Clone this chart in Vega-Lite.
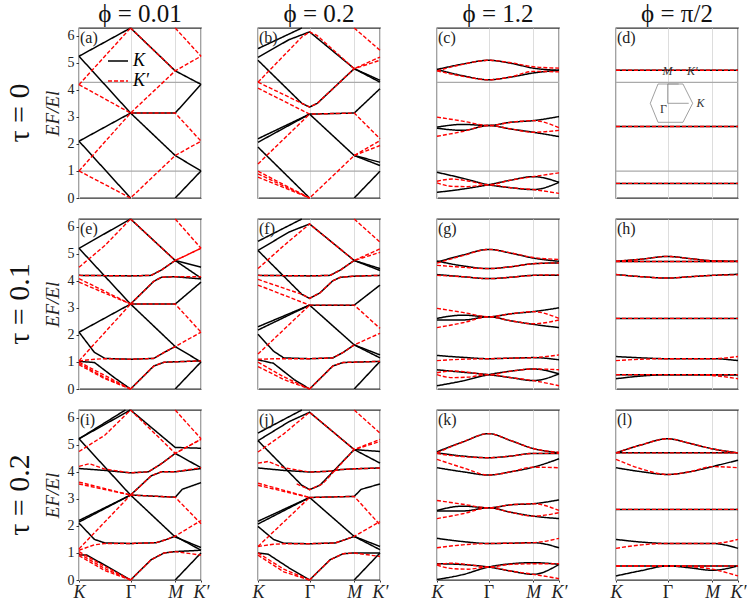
{
"$schema": "https://vega.github.io/schema/vega-lite/v6.json",
"padding": {"left": 5, "top": 2, "right": 4, "bottom": 0},
"bounds": "flush",
"background": "white",
"data": {"values": [
{"k":"h","r":0,"c":0,"b":901,"x":[0,2.366],"y":[0.99,0.99]},
{"k":"h","r":0,"c":0,"b":902,"x":[0,2.366],"y":[4.27,4.27]},
{"k":"h","r":0,"c":1,"b":901,"x":[0,2.366],"y":[0.99,0.99]},
{"k":"h","r":0,"c":1,"b":902,"x":[0,2.366],"y":[4.27,4.27]},
{"k":"h","r":0,"c":2,"b":901,"x":[0,2.366],"y":[0.99,0.99]},
{"k":"h","r":0,"c":2,"b":902,"x":[0,2.366],"y":[4.27,4.27]},
{"k":"h","r":0,"c":3,"b":901,"x":[0,2.366],"y":[0.99,0.99]},
{"k":"h","r":0,"c":3,"b":902,"x":[0,2.366],"y":[4.27,4.27]},
{"k":"hex","r":0,"c":3,"b":951,"x":[0.665,0.815,1.299,1.487,1.299,0.815,0.665],"y":[3.5,4.213,4.213,3.5,2.798,2.798,3.5]},
{"k":"hex","r":0,"c":3,"b":952,"x":[1.41,1.002,1.002,1.216],"y":[3.5,3.5,4.213,4.213]},
{"k":"t","r":0,"c":3,"t":"M","x":[1.0],"y":[4.42]},
{"k":"t","r":0,"c":3,"t":"K′","x":[1.48],"y":[4.42]},
{"k":"t","r":0,"c":3,"t":"K","x":[1.64],"y":[3.27]},
{"k":"tg","r":0,"c":3,"t":"Γ","x":[0.92],"y":[3.3]},
{"k":"lab","r":0,"c":0,"t":"(a)","x":[0],"y":[6.2832]},
{"k":"lab","r":0,"c":1,"t":"(b)","x":[0],"y":[6.2832]},
{"k":"lab","r":0,"c":2,"t":"(c)","x":[0],"y":[6.2832]},
{"k":"lab","r":0,"c":3,"t":"(d)","x":[0],"y":[6.2832]},
{"k":"lab","r":1,"c":0,"t":"(e)","x":[0],"y":[6.2832]},
{"k":"lab","r":1,"c":1,"t":"(f)","x":[0],"y":[6.2832]},
{"k":"lab","r":1,"c":2,"t":"(g)","x":[0],"y":[6.2832]},
{"k":"lab","r":1,"c":3,"t":"(h)","x":[0],"y":[6.2832]},
{"k":"lab","r":2,"c":0,"t":"(i)","x":[0],"y":[6.2832]},
{"k":"lab","r":2,"c":1,"t":"(j)","x":[0],"y":[6.2832]},
{"k":"lab","r":2,"c":2,"t":"(k)","x":[0],"y":[6.2832]},
{"k":"lab","r":2,"c":3,"t":"(l)","x":[0],"y":[6.2832]},

{"k":"b","r":0,"c":0,"v":"K","b":1,"x":[0,1],"y":[5.24,6.2832]},
{"k":"b","r":0,"c":0,"v":"K","b":2,"x":[0,1,1.866,2.366],"y":[5.24,3.14,1.57,1.0]},
{"k":"b","r":0,"c":0,"v":"K","b":3,"x":[0,1,1.866,2.366],"y":[2.1,3.14,3.14,4.2]},
{"k":"b","r":0,"c":0,"v":"K","b":4,"x":[0,1],"y":[2.1,0]},
{"k":"b","r":0,"c":0,"v":"K","b":5,"x":[1,1.866,2.366],"y":[6.2832,4.7,4.2]},
{"k":"b","r":0,"c":0,"v":"K","b":6,"x":[1.866,2.366],"y":[0,1.0]},
{"k":"b","r":0,"c":0,"v":"K′","b":11,"x":[0,1],"y":[4.19,6.2832]},
{"k":"b","r":0,"c":0,"v":"K′","b":12,"x":[0,1],"y":[4.19,3.14]},
{"k":"b","r":0,"c":0,"v":"K′","b":13,"x":[0,1,1.866,2.366],"y":[1.0,3.14,4.7,5.24]},
{"k":"b","r":0,"c":0,"v":"K′","b":14,"x":[0,1,1.866,2.366],"y":[1.0,0,1.57,2.1]},
{"k":"b","r":0,"c":0,"v":"K′","b":15,"x":[1,1.866],"y":[6.2832,4.7]},
{"k":"b","r":0,"c":0,"v":"K′","b":16,"x":[1,1.866,2.366],"y":[3.14,3.14,2.1]},
{"k":"b","r":0,"c":0,"v":"K′","b":17,"x":[1.866,2.366],"y":[6.2832,5.24]},

{"k":"b","r":0,"c":1,"v":"K","b":1,"x":[0,0.85],"y":[5.52,6.2832]},
{"k":"b","r":0,"c":1,"v":"K","b":2,"x":[0,0.6,1,1.866,2.366],"y":[5.2,5.85,6.14,4.78,4.35]},
{"k":"b","r":0,"c":1,"v":"K","b":3,"x":[0,0.85,1,1.15,1.866,2.366],"y":[5.09,3.5,3.36,3.5,4.78,4.28]},
{"k":"b","r":0,"c":1,"v":"K","b":4,"x":[0,1,1.866,2.366],"y":[2.19,3.1,3.14,4.04]},
{"k":"b","r":0,"c":1,"v":"K","b":5,"x":[0,1],"y":[2.06,3.1]},
{"k":"b","r":0,"c":1,"v":"K","b":6,"x":[0,1],"y":[1.88,0]},
{"k":"b","r":0,"c":1,"v":"K","b":7,"x":[1,1.866,2.366],"y":[3.1,1.57,1.32]},
{"k":"b","r":0,"c":1,"v":"K","b":8,"x":[1.866,2.366],"y":[1.57,1.2]},
{"k":"b","r":0,"c":1,"v":"K","b":9,"x":[1.866,2.366],"y":[0,0.99]},
{"k":"b","r":0,"c":1,"v":"K′","b":11,"x":[0,0.85,1,1.15,1.866,2.366],"y":[4.28,5.95,6.14,6.0,4.78,5.21]},
{"k":"b","r":0,"c":1,"v":"K′","b":12,"x":[0,0.85,1,1.15,1.866,2.366],"y":[4.28,3.5,3.36,3.5,4.78,5.09]},
{"k":"b","r":0,"c":1,"v":"K′","b":13,"x":[0,1,1.866,2.366],"y":[4.06,3.1,3.14,2.19]},
{"k":"b","r":0,"c":1,"v":"K′","b":14,"x":[0,1],"y":[1.26,3.1]},
{"k":"b","r":0,"c":1,"v":"K′","b":15,"x":[0,1,1.866,2.366],"y":[0.99,0,1.57,2.12]},
{"k":"b","r":0,"c":1,"v":"K′","b":16,"x":[0,1],"y":[0.89,0]},
{"k":"b","r":0,"c":1,"v":"K′","b":17,"x":[0,1],"y":[0.77,0]},
{"k":"b","r":0,"c":1,"v":"K′","b":18,"x":[1.866,2.366],"y":[1.57,1.94]},
{"k":"b","r":0,"c":1,"v":"K′","b":19,"x":[1.866,2.366],"y":[6.2832,5.46]},

{"k":"b","r":0,"c":2,"v":"K","b":1,"x":[0,0.5,1,1.433,1.866,2.366],"y":[4.75,4.95,5.09,4.98,4.8,4.72]},
{"k":"b","r":0,"c":2,"v":"K","b":2,"x":[0,0.5,1,1.433,1.866,2.366],"y":[4.75,4.52,4.37,4.47,4.62,4.72]},
{"k":"b","r":0,"c":2,"v":"K","b":3,"x":[0,0.5,1,1.433,1.866,2.366],"y":[2.62,2.72,2.68,2.8,2.86,3.01]},
{"k":"b","r":0,"c":2,"v":"K","b":4,"x":[0,0.5,1,1.433,1.866,2.366],"y":[2.58,2.5,2.68,2.55,2.43,2.27]},
{"k":"b","r":0,"c":2,"v":"K","b":5,"x":[0,0.5,1,1.433,1.866,2.366],"y":[0.95,0.73,0.49,0.38,0.31,0.58]},
{"k":"b","r":0,"c":2,"v":"K","b":6,"x":[0,0.5,1,1.433,1.866,2.366],"y":[0.21,0.33,0.49,0.66,0.79,0.58]},
{"k":"b","r":0,"c":2,"v":"K′","b":11,"x":[0,0.5,1,1.433,1.866,2.366],"y":[4.7,4.94,5.09,5.0,4.85,4.8]},
{"k":"b","r":0,"c":2,"v":"K′","b":12,"x":[0,0.5,1,1.433,1.866,2.366],"y":[4.7,4.5,4.37,4.48,4.68,4.66]},
{"k":"b","r":0,"c":2,"v":"K′","b":13,"x":[0,0.5,1,1.433,1.866,2.366],"y":[2.99,2.84,2.68,2.8,2.86,2.6]},
{"k":"b","r":0,"c":2,"v":"K′","b":14,"x":[0,0.5,1,1.433,1.866,2.366],"y":[2.28,2.46,2.68,2.55,2.43,2.5]},
{"k":"b","r":0,"c":2,"v":"K′","b":15,"x":[0,0.3,0.6,1,1.433,1.866,2.366],"y":[0.62,0.7,0.63,0.49,0.66,0.79,0.93]},
{"k":"b","r":0,"c":2,"v":"K′","b":16,"x":[0,0.3,0.6,1,1.433,1.866,2.366],"y":[0.56,0.43,0.42,0.49,0.38,0.31,0.17]},

{"k":"b","r":0,"c":3,"v":"K","b":1,"x":[0,2.366],"y":[4.72,4.72]},
{"k":"b","r":0,"c":3,"v":"K","b":2,"x":[0,2.366],"y":[2.64,2.64]},
{"k":"b","r":0,"c":3,"v":"K","b":3,"x":[0,2.366],"y":[0.54,0.54]},
{"k":"b","r":0,"c":3,"v":"K′","b":11,"x":[0,2.366],"y":[4.72,4.72]},
{"k":"b","r":0,"c":3,"v":"K′","b":12,"x":[0,2.366],"y":[2.64,2.64]},
{"k":"b","r":0,"c":3,"v":"K′","b":13,"x":[0,2.366],"y":[0.54,0.54]},

{"k":"b","r":1,"c":0,"v":"K","b":1,"x":[0,1],"y":[5.2,6.2832]},
{"k":"b","r":1,"c":0,"v":"K","b":2,"x":[0,1,1.866,2.366],"y":[5.2,3.14,1.57,1.0]},
{"k":"b","r":1,"c":0,"v":"K","b":3,"x":[0,1,1.4,1.6,1.866,2.366],"y":[4.2,4.18,4.2,4.4,4.75,4.1]},
{"k":"b","r":1,"c":0,"v":"K","b":4,"x":[1,1.866,2.366],"y":[6.2832,4.75,4.5]},
{"k":"b","r":1,"c":0,"v":"K","b":5,"x":[0,1,1.866,2.366],"y":[2.1,3.14,3.14,3.95]},
{"k":"b","r":1,"c":0,"v":"K","b":6,"x":[0,0.3,0.5,1,1.45,1.65,1.866],"y":[2.1,1.35,1.13,1.1,1.13,1.35,1.57]},
{"k":"b","r":1,"c":0,"v":"K","b":7,"x":[0,0.3,0.7,1],"y":[1.02,0.98,0.4,0]},
{"k":"b","r":1,"c":0,"v":"K","b":8,"x":[1,1.45,1.65,2.366],"y":[0,0.85,0.99,1.04]},
{"k":"b","r":1,"c":0,"v":"K","b":9,"x":[1.866,2.366],"y":[0,1.0]},
{"k":"b","r":1,"c":0,"v":"K","b":10,"x":[1,1.45,1.6,1.866,2.366],"y":[3.14,3.98,4.13,4.15,4.07]},
{"k":"b","r":1,"c":0,"v":"K′","b":11,"x":[0,0.5,1],"y":[4.5,5.3,6.2832]},
{"k":"b","r":1,"c":0,"v":"K′","b":12,"x":[0,1,1.4,1.6,1.866,2.366],"y":[4.2,4.18,4.2,4.4,4.75,5.2]},
{"k":"b","r":1,"c":0,"v":"K′","b":13,"x":[0,1],"y":[4.08,3.14]},
{"k":"b","r":1,"c":0,"v":"K′","b":14,"x":[0,1],"y":[3.95,3.14]},
{"k":"b","r":1,"c":0,"v":"K′","b":15,"x":[1,1.866,2.366],"y":[6.2832,4.75,5.2]},
{"k":"b","r":1,"c":0,"v":"K′","b":16,"x":[1.866,2.366],"y":[6.2832,5.2]},
{"k":"b","r":1,"c":0,"v":"K′","b":17,"x":[1,1.45,1.6,1.866,2.366],"y":[3.14,3.98,4.13,4.15,4.15]},
{"k":"b","r":1,"c":0,"v":"K′","b":18,"x":[1,1.866,2.366],"y":[3.14,3.14,2.1]},
{"k":"b","r":1,"c":0,"v":"K′","b":19,"x":[0,1],"y":[1.04,3.14]},
{"k":"b","r":1,"c":0,"v":"K′","b":20,"x":[0,0.3,0.5,1,1.45,1.65,1.866,2.366],"y":[1.04,1.1,1.12,1.1,1.13,1.35,1.57,2.1]},
{"k":"b","r":1,"c":0,"v":"K′","b":21,"x":[0,1],"y":[1.0,0]},
{"k":"b","r":1,"c":0,"v":"K′","b":22,"x":[0,0.5,1],"y":[0.95,0.42,0]},
{"k":"b","r":1,"c":0,"v":"K′","b":23,"x":[0,0.5,1],"y":[0.9,0.38,0]},
{"k":"b","r":1,"c":0,"v":"K′","b":24,"x":[1,1.45,1.65,2.366],"y":[0,0.85,0.99,1.04]},

{"k":"b","r":1,"c":1,"v":"K","b":1,"x":[0,0.85],"y":[5.46,6.2832]},
{"k":"b","r":1,"c":1,"v":"K","b":2,"x":[0,0.6,1,1.866,2.366],"y":[5.12,5.8,6.1,4.75,4.45]},
{"k":"b","r":1,"c":1,"v":"K","b":3,"x":[0,0.85,1,1.2,1.45,1.6,1.866,2.366],"y":[5.12,3.5,3.35,3.55,4.0,4.13,4.17,4.2]},
{"k":"b","r":1,"c":1,"v":"K","b":4,"x":[0,1,1.4,1.6,1.866,2.366],"y":[4.2,4.18,4.2,4.4,4.75,4.38]},
{"k":"b","r":1,"c":1,"v":"K","b":5,"x":[0,1,1.866,2.366],"y":[2.3,3.1,3.1,3.84]},
{"k":"b","r":1,"c":1,"v":"K","b":6,"x":[0,1],"y":[2.18,3.1]},
{"k":"b","r":1,"c":1,"v":"K","b":7,"x":[0,0.3,0.5,1,1.45,1.65,1.866,2.366],"y":[2.02,1.4,1.15,1.12,1.15,1.35,1.63,1.26]},
{"k":"b","r":1,"c":1,"v":"K","b":8,"x":[1,1.866,2.366],"y":[3.1,1.63,1.15]},
{"k":"b","r":1,"c":1,"v":"K","b":9,"x":[0,0.3,0.7,1],"y":[1.08,0.95,0.35,0]},
{"k":"b","r":1,"c":1,"v":"K","b":10,"x":[1,1.45,1.65,2.366],"y":[0,0.85,0.98,1.02]},
{"k":"b","r":1,"c":1,"v":"K","b":11,"x":[1.866,2.366],"y":[0,1.02]},
{"k":"b","r":1,"c":1,"v":"K′","b":21,"x":[0,0.5,1,1.866,2.366],"y":[4.45,5.3,6.1,4.75,5.18]},
{"k":"b","r":1,"c":1,"v":"K′","b":22,"x":[0,1,1.4,1.6,1.866,2.366],"y":[4.2,4.18,4.2,4.4,4.75,5.05]},
{"k":"b","r":1,"c":1,"v":"K′","b":23,"x":[0,0.85,1,1.2,1.45,1.6,1.866,2.366],"y":[4.05,3.5,3.35,3.55,4.0,4.13,4.17,4.2]},
{"k":"b","r":1,"c":1,"v":"K′","b":24,"x":[0,1],"y":[3.84,3.1]},
{"k":"b","r":1,"c":1,"v":"K′","b":25,"x":[1,1.866,2.366],"y":[3.1,3.1,2.24]},
{"k":"b","r":1,"c":1,"v":"K′","b":26,"x":[0,1],"y":[1.29,3.1]},
{"k":"b","r":1,"c":1,"v":"K′","b":27,"x":[0,0.4,1,1.45,1.65,1.866,2.366],"y":[1.1,1.12,1.12,1.15,1.35,1.63,2.06]},
{"k":"b","r":1,"c":1,"v":"K′","b":28,"x":[0,0.5,1],"y":[0.99,0.45,0]},
{"k":"b","r":1,"c":1,"v":"K′","b":29,"x":[0,0.5,1],"y":[0.83,0.35,0]},
{"k":"b","r":1,"c":1,"v":"K′","b":30,"x":[1,1.45,1.65,2.366],"y":[0,0.85,0.98,1.02]},
{"k":"b","r":1,"c":1,"v":"K′","b":31,"x":[1.866,2.366],"y":[6.2832,5.43]},

{"k":"b","r":1,"c":2,"v":"K","b":1,"x":[0,0.5,1,1.433,1.866,2.366],"y":[4.69,4.95,5.16,5.02,4.84,4.72]},
{"k":"b","r":1,"c":2,"v":"K","b":2,"x":[0,0.5,1,1.433,1.866,2.366],"y":[4.73,4.55,4.45,4.52,4.63,4.66]},
{"k":"b","r":1,"c":2,"v":"K","b":3,"x":[0,0.5,1,1.433,1.866,2.366],"y":[4.23,4.15,4.08,4.13,4.2,4.2]},
{"k":"b","r":1,"c":2,"v":"K","b":4,"x":[0,0.5,1,1.433,1.866,2.366],"y":[2.61,2.73,2.67,2.78,2.86,3.0]},
{"k":"b","r":1,"c":2,"v":"K","b":5,"x":[0,0.5,1,1.433,1.866,2.366],"y":[2.55,2.55,2.67,2.52,2.39,2.27]},
{"k":"b","r":1,"c":2,"v":"K","b":6,"x":[0,0.5,1,1.433,1.866,2.366],"y":[1.24,1.17,1.12,1.14,1.16,1.08]},
{"k":"b","r":1,"c":2,"v":"K","b":7,"x":[0,0.5,1,1.433,1.866,2.366],"y":[0.71,0.62,0.53,0.42,0.31,0.56]},
{"k":"b","r":1,"c":2,"v":"K","b":8,"x":[0,0.5,1,1.433,1.866,2.366],"y":[0.12,0.3,0.53,0.66,0.74,0.56]},
{"k":"b","r":1,"c":2,"v":"K′","b":11,"x":[0,0.5,1,1.433,1.866,2.366],"y":[4.65,4.93,5.16,5.03,4.86,4.79]},
{"k":"b","r":1,"c":2,"v":"K′","b":12,"x":[0,0.5,1,1.433,1.866,2.366],"y":[4.57,4.5,4.45,4.52,4.63,4.66]},
{"k":"b","r":1,"c":2,"v":"K′","b":13,"x":[0,0.5,1,1.433,1.866,2.366],"y":[4.2,4.15,4.08,4.13,4.2,4.22]},
{"k":"b","r":1,"c":2,"v":"K′","b":14,"x":[0,0.5,1,1.433,1.866,2.366],"y":[2.98,2.83,2.67,2.78,2.86,2.61]},
{"k":"b","r":1,"c":2,"v":"K′","b":15,"x":[0,0.5,1,1.433,1.866,2.366],"y":[2.27,2.45,2.67,2.52,2.41,2.55]},
{"k":"b","r":1,"c":2,"v":"K′","b":16,"x":[0,0.5,1,1.433,1.866,2.366],"y":[1.05,1.1,1.12,1.14,1.16,1.26]},
{"k":"b","r":1,"c":2,"v":"K′","b":17,"x":[0,0.3,0.6,1,1.433,1.866,2.366],"y":[0.6,0.67,0.62,0.53,0.66,0.74,0.71]},
{"k":"b","r":1,"c":2,"v":"K′","b":18,"x":[0,0.3,0.6,1,1.433,1.866,2.366],"y":[0.53,0.42,0.44,0.53,0.42,0.31,0.12]},

{"k":"b","r":1,"c":3,"v":"K","b":1,"x":[0,0.5,1,1.433,1.866,2.366],"y":[4.72,4.8,4.9,4.82,4.74,4.72]},
{"k":"b","r":1,"c":3,"v":"K","b":2,"x":[0,2.366],"y":[4.71,4.71]},
{"k":"b","r":1,"c":3,"v":"K","b":3,"x":[0,0.5,1,1.433,1.866,2.366],"y":[4.23,4.15,4.1,4.15,4.2,4.24]},
{"k":"b","r":1,"c":3,"v":"K","b":4,"x":[0,2.366],"y":[2.61,2.61]},
{"k":"b","r":1,"c":3,"v":"K","b":5,"x":[0,0.5,1,1.433,1.866,2.366],"y":[1.2,1.15,1.12,1.12,1.12,1.05]},
{"k":"b","r":1,"c":3,"v":"K","b":6,"x":[0,0.5,1,1.433,1.866,2.366],"y":[0.38,0.48,0.53,0.53,0.53,0.53]},
{"k":"b","r":1,"c":3,"v":"K","b":7,"x":[0,2.366],"y":[0.53,0.53]},
{"k":"b","r":1,"c":3,"v":"K′","b":11,"x":[0,0.5,1,1.433,1.866,2.366],"y":[4.72,4.8,4.9,4.82,4.74,4.72]},
{"k":"b","r":1,"c":3,"v":"K′","b":12,"x":[0,2.366],"y":[4.71,4.71]},
{"k":"b","r":1,"c":3,"v":"K′","b":13,"x":[0,0.5,1,1.433,1.866,2.366],"y":[4.23,4.15,4.1,4.15,4.2,4.22]},
{"k":"b","r":1,"c":3,"v":"K′","b":14,"x":[0,2.366],"y":[2.61,2.61]},
{"k":"b","r":1,"c":3,"v":"K′","b":15,"x":[0,0.5,1,1.433,1.866,2.366],"y":[1.05,1.1,1.12,1.12,1.12,1.2]},
{"k":"b","r":1,"c":3,"v":"K′","b":16,"x":[0,0.5,1,1.433,1.866,2.366],"y":[0.53,0.53,0.53,0.53,0.5,0.38]},
{"k":"b","r":1,"c":3,"v":"K′","b":17,"x":[0,2.366],"y":[0.53,0.53]},

{"k":"b","r":2,"c":0,"v":"K","b":1,"x":[0,1],"y":[5.22,6.2832]},
{"k":"b","r":2,"c":0,"v":"K","b":2,"x":[0,0.9],"y":[5.22,6.2832]},
{"k":"b","r":2,"c":0,"v":"K","b":3,"x":[0,1,1.866,2.366],"y":[5.22,3.14,1.59,1.2]},
{"k":"b","r":2,"c":0,"v":"K","b":4,"x":[1,1.866,2.366],"y":[6.2832,4.9,4.87]},
{"k":"b","r":2,"c":0,"v":"K","b":5,"x":[0,0.5,1,1.35,1.6,1.866,2.366],"y":[4.12,4.05,3.96,4.0,4.3,4.68,4.15]},
{"k":"b","r":2,"c":0,"v":"K","b":6,"x":[1,1.4,1.6,1.866,2.366],"y":[3.14,3.85,4.0,4.0,4.12]},
{"k":"b","r":2,"c":0,"v":"K","b":7,"x":[0,1,1.866,2.0,2.366],"y":[2.14,3.14,3.06,3.35,3.6]},
{"k":"b","r":2,"c":0,"v":"K","b":8,"x":[0,1],"y":[2.2,3.14]},
{"k":"b","r":2,"c":0,"v":"K","b":9,"x":[0,0.3,0.5,1,1.5,1.7,1.866,2.366],"y":[2.1,1.5,1.37,1.35,1.38,1.5,1.62,1.1]},
{"k":"b","r":2,"c":0,"v":"K","b":11,"x":[0,0.15,0.5,1],"y":[0.93,0.92,0.55,0]},
{"k":"b","r":2,"c":0,"v":"K","b":12,"x":[1,1.4,1.65,1.866,2.366],"y":[0,0.75,1.0,1.05,1.1]},
{"k":"b","r":2,"c":0,"v":"K","b":13,"x":[1.866,2.366],"y":[0,1.0]},
{"k":"b","r":2,"c":0,"v":"K′","b":21,"x":[0,0.5,1],"y":[4.75,5.35,6.2832]},
{"k":"b","r":2,"c":0,"v":"K′","b":22,"x":[1,1.866,2.366],"y":[6.2832,4.68,5.2]},
{"k":"b","r":2,"c":0,"v":"K′","b":23,"x":[1.866,2.366],"y":[6.2832,5.22]},
{"k":"b","r":2,"c":0,"v":"K′","b":24,"x":[0,0.2,0.5,1,1.35,1.6,1.866,2.366],"y":[4.2,4.3,4.1,3.96,4.0,4.3,4.68,5.2]},
{"k":"b","r":2,"c":0,"v":"K′","b":25,"x":[1,1.4,1.6,1.866,2.366],"y":[3.14,3.85,4.0,4.0,4.15]},
{"k":"b","r":2,"c":0,"v":"K′","b":26,"x":[0,1],"y":[3.62,3.14]},
{"k":"b","r":2,"c":0,"v":"K′","b":27,"x":[0,1],"y":[3.55,3.14]},
{"k":"b","r":2,"c":0,"v":"K′","b":28,"x":[1,1.866,2.366],"y":[3.14,3.06,2.08]},
{"k":"b","r":2,"c":0,"v":"K′","b":29,"x":[0,1],"y":[1.15,3.14]},
{"k":"b","r":2,"c":0,"v":"K′","b":30,"x":[0,0.3,0.5,1,1.5,1.7,1.866,2.366],"y":[1.1,1.3,1.35,1.35,1.38,1.5,1.62,2.2]},
{"k":"b","r":2,"c":0,"v":"K′","b":31,"x":[0,0.5,1],"y":[1.05,0.5,0]},
{"k":"b","r":2,"c":0,"v":"K′","b":32,"x":[0,0.5,1],"y":[0.98,0.42,0]},
{"k":"b","r":2,"c":0,"v":"K′","b":33,"x":[0,0.5,1],"y":[0.9,0.35,0]},
{"k":"b","r":2,"c":0,"v":"K′","b":34,"x":[1,1.4,1.65,1.866,2.366],"y":[0,0.75,1.0,1.05,0.92]},

{"k":"b","r":2,"c":1,"v":"K","b":1,"x":[0,0.85],"y":[5.43,6.2832]},
{"k":"b","r":2,"c":1,"v":"K","b":2,"x":[0,0.6,1,1.866,2.366],"y":[5.15,5.85,6.2,4.82,4.75]},
{"k":"b","r":2,"c":1,"v":"K","b":3,"x":[0,0.85,1,1.2,1.866,2.366],"y":[5.15,3.5,3.34,3.5,4.82,4.32]},
{"k":"b","r":2,"c":1,"v":"K","b":4,"x":[0,0.5,1,1.4,1.6,1.866,2.366],"y":[4.14,4.05,3.99,4.02,4.08,4.11,4.14]},
{"k":"b","r":2,"c":1,"v":"K","b":5,"x":[0,1,1.866,2.0,2.366],"y":[2.17,3.05,3.09,3.35,3.55]},
{"k":"b","r":2,"c":1,"v":"K","b":6,"x":[0,1],"y":[2.07,3.05]},
{"k":"b","r":2,"c":1,"v":"K","b":7,"x":[0,0.3,0.5,1,1.5,1.7,1.866,2.366],"y":[1.98,1.5,1.36,1.34,1.37,1.5,1.61,1.24]},
{"k":"b","r":2,"c":1,"v":"K","b":8,"x":[1,1.866,2.366],"y":[3.05,1.61,1.12]},
{"k":"b","r":2,"c":1,"v":"K","b":9,"x":[0,0.2,0.6,1],"y":[1.0,0.95,0.45,0]},
{"k":"b","r":2,"c":1,"v":"K","b":10,"x":[1,1.4,1.65,1.866,2.366],"y":[0,0.75,0.97,1.0,1.0]},
{"k":"b","r":2,"c":1,"v":"K","b":11,"x":[1.866,2.366],"y":[0,1.0]},
{"k":"b","r":2,"c":1,"v":"K′","b":21,"x":[0,0.5,1,1.866,2.366],"y":[4.73,5.4,6.2,4.82,5.12]},
{"k":"b","r":2,"c":1,"v":"K′","b":22,"x":[0,0.2,0.5,1,1.4,1.6,1.866,2.366],"y":[4.32,4.38,4.15,3.99,4.02,4.08,4.11,4.14]},
{"k":"b","r":2,"c":1,"v":"K′","b":23,"x":[0.75,1,1.25,1.866,2.366],"y":[3.55,3.34,3.55,4.82,5.2]},
{"k":"b","r":2,"c":1,"v":"K′","b":24,"x":[0,1],"y":[3.58,3.05]},
{"k":"b","r":2,"c":1,"v":"K′","b":25,"x":[0,1],"y":[3.5,3.05]},
{"k":"b","r":2,"c":1,"v":"K′","b":26,"x":[1,1.866,2.366],"y":[3.05,3.09,2.04]},
{"k":"b","r":2,"c":1,"v":"K′","b":27,"x":[0,1],"y":[1.24,3.05]},
{"k":"b","r":2,"c":1,"v":"K′","b":28,"x":[0,0.3,0.5,1,1.5,1.7,1.866,2.366],"y":[1.24,1.32,1.34,1.34,1.37,1.5,1.61,2.16]},
{"k":"b","r":2,"c":1,"v":"K′","b":29,"x":[0,0.5,1],"y":[1.0,0.4,0]},
{"k":"b","r":2,"c":1,"v":"K′","b":30,"x":[0,0.5,1],"y":[0.92,0.3,0]},
{"k":"b","r":2,"c":1,"v":"K′","b":31,"x":[1,1.4,1.65,1.866,2.366],"y":[0,0.75,0.97,1.0,0.87]},
{"k":"b","r":2,"c":1,"v":"K′","b":32,"x":[1.866,2.366],"y":[6.2832,5.43]},

{"k":"b","r":2,"c":2,"v":"K","b":1,"x":[0,0.5,1,1.433,1.866,2.366],"y":[4.74,5.1,5.41,5.15,4.86,4.7]},
{"k":"b","r":2,"c":2,"v":"K","b":2,"x":[0,0.5,1,1.433,1.866,2.366],"y":[4.7,4.58,4.52,4.58,4.68,4.68]},
{"k":"b","r":2,"c":2,"v":"K","b":3,"x":[0,0.5,1,1.433,1.866,2.366],"y":[4.15,4.0,3.88,4.0,4.17,4.48]},
{"k":"b","r":2,"c":2,"v":"K","b":4,"x":[0,0.5,1,1.433,1.866,2.366],"y":[2.57,2.73,2.67,2.78,2.82,2.96]},
{"k":"b","r":2,"c":2,"v":"K","b":5,"x":[0,0.5,1,1.433,1.866,2.366],"y":[2.55,2.55,2.67,2.5,2.36,2.27]},
{"k":"b","r":2,"c":2,"v":"K","b":6,"x":[0,0.5,1,1.433,1.866,2.366],"y":[1.54,1.42,1.35,1.36,1.38,1.19]},
{"k":"b","r":2,"c":2,"v":"K","b":7,"x":[0,0.5,1,1.433,1.866,2.366],"y":[0.6,0.57,0.48,0.33,0.21,0.58]},
{"k":"b","r":2,"c":2,"v":"K","b":8,"x":[0,0.5,1,1.433,1.866,2.366],"y":[0.02,0.2,0.48,0.6,0.64,0.58]},
{"k":"b","r":2,"c":2,"v":"K′","b":11,"x":[0,0.5,1,1.433,1.866,2.366],"y":[4.7,5.1,5.41,5.15,4.86,4.72]},
{"k":"b","r":2,"c":2,"v":"K′","b":12,"x":[0,0.5,1,1.433,1.866,2.366],"y":[4.67,4.56,4.52,4.58,4.68,4.68]},
{"k":"b","r":2,"c":2,"v":"K′","b":13,"x":[0,0.5,1,1.433,1.866,2.366],"y":[4.46,4.15,3.88,4.0,4.17,4.15]},
{"k":"b","r":2,"c":2,"v":"K′","b":14,"x":[0,0.5,1,1.433,1.866,2.366],"y":[2.94,2.8,2.67,2.78,2.82,2.57]},
{"k":"b","r":2,"c":2,"v":"K′","b":15,"x":[0,0.5,1,1.433,1.866,2.366],"y":[2.27,2.45,2.67,2.5,2.36,2.49]},
{"k":"b","r":2,"c":2,"v":"K′","b":16,"x":[0,0.5,1,1.433,1.866,2.366],"y":[1.19,1.3,1.35,1.36,1.38,1.54]},
{"k":"b","r":2,"c":2,"v":"K′","b":17,"x":[0,0.3,0.6,1,1.433,1.866,2.366],"y":[0.58,0.62,0.57,0.48,0.58,0.6,0.6]},
{"k":"b","r":2,"c":2,"v":"K′","b":18,"x":[0,0.3,0.6,1,1.433,1.866,2.366],"y":[0.55,0.42,0.4,0.48,0.33,0.21,0.05]},

{"k":"b","r":2,"c":3,"v":"K","b":1,"x":[0,0.5,1,1.433,1.866,2.366],"y":[4.7,5.0,5.22,5.05,4.85,4.7]},
{"k":"b","r":2,"c":3,"v":"K","b":2,"x":[0,2.366],"y":[4.7,4.7]},
{"k":"b","r":2,"c":3,"v":"K","b":3,"x":[0,0.5,1,1.433,1.866,2.366],"y":[4.15,4.0,3.9,4.0,4.19,4.43]},
{"k":"b","r":2,"c":3,"v":"K","b":4,"x":[0,2.366],"y":[2.61,2.61]},
{"k":"b","r":2,"c":3,"v":"K","b":5,"x":[0,0.5,1,1.433,1.866,2.366],"y":[1.5,1.4,1.35,1.35,1.35,1.17]},
{"k":"b","r":2,"c":3,"v":"K","b":6,"x":[0,0.5,1,1.433,1.866,2.366],"y":[0.15,0.35,0.52,0.45,0.36,0.52]},
{"k":"b","r":2,"c":3,"v":"K","b":7,"x":[0,2.366],"y":[0.52,0.52]},
{"k":"b","r":2,"c":3,"v":"K′","b":11,"x":[0,0.5,1,1.433,1.866,2.366],"y":[4.7,5.0,5.22,5.05,4.85,4.7]},
{"k":"b","r":2,"c":3,"v":"K′","b":12,"x":[0,2.366],"y":[4.7,4.7]},
{"k":"b","r":2,"c":3,"v":"K′","b":13,"x":[0,0.5,1,1.433,1.866,2.366],"y":[4.46,4.1,3.9,4.0,4.19,4.15]},
{"k":"b","r":2,"c":3,"v":"K′","b":14,"x":[0,2.366],"y":[2.61,2.61]},
{"k":"b","r":2,"c":3,"v":"K′","b":15,"x":[0,0.5,1,1.433,1.866,2.366],"y":[1.17,1.3,1.35,1.35,1.35,1.5]},
{"k":"b","r":2,"c":3,"v":"K′","b":16,"x":[0,2.366],"y":[0.52,0.52]},
{"k":"b","r":2,"c":3,"v":"K′","b":17,"x":[0,1,1.433,1.866,2.366],"y":[0.52,0.52,0.5,0.4,0.15]}
]},
"transform": [{"flatten": ["x", "y"]}],
"facet": {
  "row": {"field": "r", "type": "ordinal", "title": null,
    "header": {"labelExpr": "['τ = 0','τ = 0.1','τ = 0.2'][datum.value]", "labelAngle": -90, "labelFont": "Liberation Serif", "labelFontSize": 30, "labelPadding": -22, "labelAlign": "center", "labelBaseline": "bottom"}},
  "column": {"field": "c", "type": "ordinal", "title": null,
    "header": {"labelExpr": "['ϕ = 0.01','ϕ = 0.2','ϕ = 1.2','ϕ = π/2'][datum.value]", "labelFont": "Liberation Serif", "labelFontSize": 25, "labelPadding": 1}}
},
"spacing": {"row": 21, "column": 57},
"spec": {
  "width": 122,
  "height": 170,
  "encoding": {
    "x": {"field": "x", "type": "quantitative", "title": null,
      "scale": {"domain": [0, 2.366], "nice": false, "zero": false},
      "axis": {"values": [0, 1, 1.866, 2.366], "labelExpr": "datum.value == 0 ? 'K' : datum.value == 1 ? 'Γ' : datum.value < 2 ? 'M' : 'K′'", "labelFontSize": 18, "labelFontStyle": {"condition": {"test": "datum.value == 1", "value": "normal"}, "value": "italic"}, "labelFlush": false, "labelOverlap": false, "grid": true, "gridColor": "#dddddd", "tickSize": 2, "labelPadding": 1}},
    "y": {"field": "y", "type": "quantitative", "title": "EF/El",
      "scale": {"domain": [0, 6.2832], "nice": false, "zero": false},
      "axis": {"values": [0, 1, 2, 3, 4, 5, 6], "labelFontSize": 14, "grid": false, "tickSize": 3, "labelPadding": 2, "titleFontSize": 19, "titleFontStyle": "italic", "titleFontWeight": "normal", "titlePadding": 5}}
  },
  "layer": [
    {"transform": [{"filter": "datum.k == 'h'"}], "mark": {"type": "line", "color": "#aaaaaa", "strokeWidth": 1.3}, "encoding": {"detail": {"field": "b"}}},
    {"transform": [{"filter": "datum.k == 'hex'"}], "mark": {"type": "line", "color": "#888888", "strokeWidth": 0.8}, "encoding": {"detail": {"field": "b"}, "order": {"value": null}}},
    {"transform": [{"filter": "datum.k == 'b' && datum.v == 'K' && datum.c < 2"}], "mark": {"type": "line", "strokeWidth": 1.5, "interpolate": "linear"},
     "encoding": {"detail": {"field": "b"},
       "color": {"field": "v", "type": "nominal", "scale": {"domain": ["K", "K′"], "range": ["#000000", "#ff0000"]}, "legend": {"title": null, "orient": "none", "legendX": 28, "legendY": 22, "symbolType": "stroke", "symbolSize": 400, "symbolStrokeWidth": 1.4, "labelFont": "Liberation Serif", "labelFontSize": 18, "labelFontStyle": "italic", "rowPadding": -7}},
       "strokeDash": {"field": "v", "type": "nominal", "scale": {"domain": ["K", "K′"], "range": [[1, 0], [4, 2]]}, "legend": {"title": null, "orient": "none", "legendX": 28, "legendY": 22, "symbolType": "stroke", "symbolSize": 400, "symbolStrokeWidth": 1.4, "labelFont": "Liberation Serif", "labelFontSize": 18, "labelFontStyle": "italic", "rowPadding": -7}}}},
    {"transform": [{"filter": "datum.k == 'b' && datum.v == 'K′' && datum.c < 2"}], "mark": {"type": "line", "strokeWidth": 1.4, "interpolate": "linear"},
     "encoding": {"detail": {"field": "b"}, "color": {"field": "v", "type": "nominal"}, "strokeDash": {"field": "v", "type": "nominal"}}},
    {"transform": [{"filter": "datum.k == 'b' && datum.v == 'K' && datum.c >= 2"}], "mark": {"type": "line", "strokeWidth": 1.5, "interpolate": "monotone"},
     "encoding": {"detail": {"field": "b"}, "color": {"field": "v", "type": "nominal"}, "strokeDash": {"field": "v", "type": "nominal"}}},
    {"transform": [{"filter": "datum.k == 'b' && datum.v == 'K′' && datum.c >= 2"}], "mark": {"type": "line", "strokeWidth": 1.4, "interpolate": "monotone"},
     "encoding": {"detail": {"field": "b"}, "color": {"field": "v", "type": "nominal"}, "strokeDash": {"field": "v", "type": "nominal"}}},
    {"transform": [{"filter": "datum.k == 'lab'"}], "mark": {"type": "text", "align": "left", "baseline": "top", "dx": 1, "dy": 2, "font": "Liberation Serif", "fontSize": 16, "color": "#222222"}, "encoding": {"text": {"field": "t"}}},
    {"transform": [{"filter": "datum.k == 't'"}], "mark": {"type": "text", "align": "center", "baseline": "bottom", "font": "Liberation Serif", "fontSize": 12, "fontStyle": "italic", "color": "#333333"}, "encoding": {"text": {"field": "t"}}},
    {"transform": [{"filter": "datum.k == 'tg'"}], "mark": {"type": "text", "align": "center", "baseline": "middle", "font": "Liberation Serif", "fontSize": 12, "color": "#333333"}, "encoding": {"text": {"field": "t"}}}
  ]
},
"config": {
  "font": "Liberation Serif",
  "view": {"stroke": "#333333", "strokeWidth": 1.3},
  "axis": {"labelFont": "Liberation Serif", "titleFont": "Liberation Serif", "domain": false, "tickColor": "#333333", "labelColor": "#222222", "titleColor": "#222222"},
  "header": {"labelColor": "#111111"}
}
}
